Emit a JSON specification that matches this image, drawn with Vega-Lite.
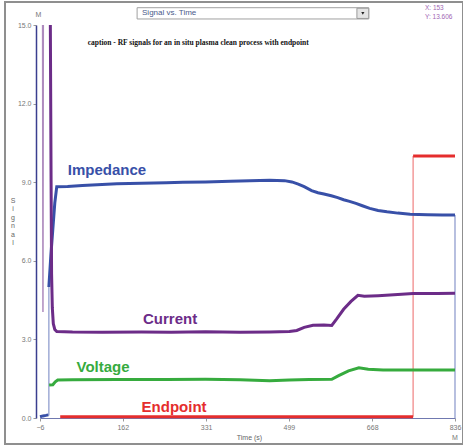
{
  "$schema": "https://vega.github.io/schema/vega-lite/v6.json",
  "width": 458,
  "height": 442,
  "autosize": {"type": "none"},
  "padding": {"left": 5, "top": 2, "right": 0, "bottom": 2},
  "background": "white",
  "config": {"view": {"stroke": "#8f8f8f", "strokeWidth": 2}, "font": "Liberation Sans"},
  "datasets": {
    "series": [
      {"s": "Impedance", "seg": "z", "t": -6, "v": 0.05},
      {"s": "Impedance", "seg": "z", "t": 0, "v": 0.08},
      {"s": "Impedance", "seg": "z", "t": 6, "v": 0.1},
      {"s": "Impedance", "seg": "z", "t": 11, "v": 0.12},
      {"s": "Impedance", "seg": "m", "t": 12, "v": 5.0},
      {"s": "Impedance", "seg": "m", "t": 16, "v": 6.2},
      {"s": "Impedance", "seg": "m", "t": 20, "v": 7.2},
      {"s": "Impedance", "seg": "m", "t": 24, "v": 8.2},
      {"s": "Impedance", "seg": "m", "t": 28, "v": 8.83},
      {"s": "Impedance", "seg": "m", "t": 50, "v": 8.84},
      {"s": "Impedance", "seg": "m", "t": 80, "v": 8.87},
      {"s": "Impedance", "seg": "m", "t": 110, "v": 8.9},
      {"s": "Impedance", "seg": "m", "t": 150, "v": 8.94},
      {"s": "Impedance", "seg": "m", "t": 200, "v": 8.96},
      {"s": "Impedance", "seg": "m", "t": 250, "v": 8.98},
      {"s": "Impedance", "seg": "m", "t": 284, "v": 9.0},
      {"s": "Impedance", "seg": "m", "t": 330, "v": 9.01},
      {"s": "Impedance", "seg": "m", "t": 380, "v": 9.04},
      {"s": "Impedance", "seg": "m", "t": 420, "v": 9.06},
      {"s": "Impedance", "seg": "m", "t": 460, "v": 9.07},
      {"s": "Impedance", "seg": "m", "t": 490, "v": 9.06},
      {"s": "Impedance", "seg": "m", "t": 505, "v": 9.01},
      {"s": "Impedance", "seg": "m", "t": 518, "v": 8.93},
      {"s": "Impedance", "seg": "m", "t": 530, "v": 8.83},
      {"s": "Impedance", "seg": "m", "t": 545, "v": 8.68},
      {"s": "Impedance", "seg": "m", "t": 558, "v": 8.6},
      {"s": "Impedance", "seg": "m", "t": 570, "v": 8.55},
      {"s": "Impedance", "seg": "m", "t": 585, "v": 8.48},
      {"s": "Impedance", "seg": "m", "t": 598, "v": 8.41},
      {"s": "Impedance", "seg": "m", "t": 610, "v": 8.33},
      {"s": "Impedance", "seg": "m", "t": 622, "v": 8.27},
      {"s": "Impedance", "seg": "m", "t": 635, "v": 8.19},
      {"s": "Impedance", "seg": "m", "t": 648, "v": 8.1},
      {"s": "Impedance", "seg": "m", "t": 663, "v": 8.0},
      {"s": "Impedance", "seg": "m", "t": 680, "v": 7.92},
      {"s": "Impedance", "seg": "m", "t": 698, "v": 7.87},
      {"s": "Impedance", "seg": "m", "t": 720, "v": 7.82},
      {"s": "Impedance", "seg": "m", "t": 745, "v": 7.78},
      {"s": "Impedance", "seg": "m", "t": 780, "v": 7.76},
      {"s": "Impedance", "seg": "m", "t": 810, "v": 7.75},
      {"s": "Impedance", "seg": "m", "t": 836, "v": 7.75},
      {"s": "Current", "seg": "m", "t": 15, "v": 15},
      {"s": "Current", "seg": "m", "t": 16.5, "v": 9},
      {"s": "Current", "seg": "m", "t": 17.5, "v": 5.5},
      {"s": "Current", "seg": "m", "t": 19, "v": 4.2},
      {"s": "Current", "seg": "m", "t": 21, "v": 3.6},
      {"s": "Current", "seg": "m", "t": 24, "v": 3.38},
      {"s": "Current", "seg": "m", "t": 28, "v": 3.3},
      {"s": "Current", "seg": "m", "t": 60, "v": 3.28},
      {"s": "Current", "seg": "m", "t": 120, "v": 3.27},
      {"s": "Current", "seg": "m", "t": 200, "v": 3.28},
      {"s": "Current", "seg": "m", "t": 260, "v": 3.27},
      {"s": "Current", "seg": "m", "t": 330, "v": 3.29},
      {"s": "Current", "seg": "m", "t": 400, "v": 3.27},
      {"s": "Current", "seg": "m", "t": 460, "v": 3.28},
      {"s": "Current", "seg": "m", "t": 500, "v": 3.3},
      {"s": "Current", "seg": "m", "t": 515, "v": 3.34},
      {"s": "Current", "seg": "m", "t": 530, "v": 3.46},
      {"s": "Current", "seg": "m", "t": 548, "v": 3.54},
      {"s": "Current", "seg": "m", "t": 570, "v": 3.55},
      {"s": "Current", "seg": "m", "t": 586, "v": 3.53},
      {"s": "Current", "seg": "m", "t": 596, "v": 3.78},
      {"s": "Current", "seg": "m", "t": 610, "v": 4.15},
      {"s": "Current", "seg": "m", "t": 625, "v": 4.45},
      {"s": "Current", "seg": "m", "t": 639, "v": 4.68},
      {"s": "Current", "seg": "m", "t": 652, "v": 4.65},
      {"s": "Current", "seg": "m", "t": 680, "v": 4.67},
      {"s": "Current", "seg": "m", "t": 720, "v": 4.71},
      {"s": "Current", "seg": "m", "t": 751, "v": 4.75},
      {"s": "Current", "seg": "m", "t": 800, "v": 4.75},
      {"s": "Current", "seg": "m", "t": 836, "v": 4.76},
      {"s": "Voltage", "seg": "m", "t": 12.5, "v": 1.26},
      {"s": "Voltage", "seg": "m", "t": 20, "v": 1.27},
      {"s": "Voltage", "seg": "m", "t": 25, "v": 1.38},
      {"s": "Voltage", "seg": "m", "t": 30, "v": 1.45},
      {"s": "Voltage", "seg": "m", "t": 60, "v": 1.46},
      {"s": "Voltage", "seg": "m", "t": 150, "v": 1.47},
      {"s": "Voltage", "seg": "m", "t": 250, "v": 1.47},
      {"s": "Voltage", "seg": "m", "t": 330, "v": 1.48},
      {"s": "Voltage", "seg": "m", "t": 400, "v": 1.46},
      {"s": "Voltage", "seg": "m", "t": 460, "v": 1.42},
      {"s": "Voltage", "seg": "m", "t": 500, "v": 1.45},
      {"s": "Voltage", "seg": "m", "t": 540, "v": 1.47},
      {"s": "Voltage", "seg": "m", "t": 586, "v": 1.48},
      {"s": "Voltage", "seg": "m", "t": 600, "v": 1.62},
      {"s": "Voltage", "seg": "m", "t": 620, "v": 1.8},
      {"s": "Voltage", "seg": "m", "t": 641, "v": 1.92},
      {"s": "Voltage", "seg": "m", "t": 660, "v": 1.86},
      {"s": "Voltage", "seg": "m", "t": 690, "v": 1.83},
      {"s": "Voltage", "seg": "m", "t": 750, "v": 1.83},
      {"s": "Voltage", "seg": "m", "t": 836, "v": 1.83},
      {"s": "Endpoint", "seg": "a", "t": 35, "v": 0.05},
      {"s": "Endpoint", "seg": "a", "t": 751, "v": 0.05},
      {"s": "Endpoint", "seg": "b", "t": 751, "v": 10},
      {"s": "Endpoint", "seg": "b", "t": 836, "v": 10}
    ],
    "spikes": [
      {"s": "Current", "seg": "s", "t": -0.7, "v": 15},
      {"s": "Current", "seg": "s", "t": 0, "v": 4.05},
      {"s": "Current", "seg": "s", "t": 0.7, "v": 15}
    ],
    "vlines": [
      {"s": "Impedance", "t": 12, "v": 0.1, "v2": 5.0},
      {"s": "Impedance", "t": 836, "v": 0, "v2": 7.75},
      {"s": "Endpoint", "t": 751, "v": 0.05, "v2": 10}
    ],
    "labels": [
      {"s": "Impedance", "t": 130, "v": 9.47},
      {"s": "Current", "t": 258, "v": 3.78},
      {"s": "Voltage", "t": 122, "v": 1.95},
      {"s": "Endpoint", "t": 266, "v": 0.42}
    ]
  },
  "encoding": {
    "x": {
      "field": "t", "type": "quantitative",
      "scale": {"domain": [-6, 836], "range": [35, 450], "nice": false, "zero": false},
      "axis": {
        "values": [-6, 162, 331, 499, 668, 836], "format": "d",
        "title": "Time  (s)", "offset": -26, "grid": false,
        "domainColor": "#7079b0", "tickColor": "#999", "tickSize": 3,
        "labelFontSize": 7, "labelColor": "#777", "labelPadding": 2, "labelFlush": false,
        "titleFontSize": 7, "titleColor": "#666", "titleFontWeight": "normal",
        "titleX": 244, "titleY": 19, "titleBaseline": "middle", "titleAlign": "center"
      }
    },
    "y": {
      "field": "v", "type": "quantitative",
      "scale": {"domain": [0, 15], "range": [416, 23], "nice": false, "zero": false},
      "axis": {
        "values": [0, 3, 6, 9, 12, 15], "format": ".1f",
        "title": ["S", "i", "g", "n", "a", "l"], "titleAngle": 0,
        "titleX": -23.5, "titleY": 194, "titleAlign": "center", "titleBaseline": "top",
        "titleLineHeight": 8.5, "titleFontSize": 7, "titleFontWeight": "normal", "titleColor": "#666",
        "offset": -31, "grid": false,
        "domainColor": "#3a3f8f", "domainWidth": 1.5, "tickColor": "#999", "tickSize": 3,
        "labelFontSize": 7, "labelColor": "#777", "labelPadding": 2, "labelFlush": false
      }
    }
  },
  "layer": [
    {
      "data": {"values": [{"t": 191, "t2": 661, "v": 15.23, "v2": 15.66}]},
      "mark": {"type": "rect", "fill": "white", "stroke": "#a0a0a0", "strokeWidth": 1},
      "encoding": {"x2": {"field": "t2"}, "y2": {"field": "v2"}}
    },
    {
      "data": {"values": [{"t": 637, "t2": 661, "v": 15.25, "v2": 15.64}]},
      "mark": {"type": "rect", "fill": "#e4e4e4", "stroke": "#9a9a9a", "strokeWidth": 1},
      "encoding": {"x2": {"field": "t2"}, "y2": {"field": "v2"}}
    },
    {
      "data": {"values": [{"t": 649, "v": 15.44}]},
      "mark": {"type": "point", "shape": "triangle-down", "size": 10, "filled": true, "color": "#222", "opacity": 1}
    },
    {
      "data": {"values": [{"txt": "Signal vs. Time", "t": 201, "v": 15.45}]},
      "mark": {"type": "text", "align": "left", "baseline": "middle", "fontSize": 8, "color": "#4a5a8a"},
      "encoding": {"text": {"field": "txt"}}
    },
    {
      "data": {"values": [{"txt": "X: 153", "t": 775, "v": 15.63}, {"txt": "Y: 13.606", "t": 775, "v": 15.31}]},
      "mark": {"type": "text", "align": "left", "baseline": "middle", "fontSize": 6.5, "color": "#a066b4"},
      "encoding": {"text": {"field": "txt"}}
    },
    {
      "data": {"values": [{"txt": "M", "t": -9, "v": 15.4}, {"txt": "M", "t": 836, "v": -0.76}]},
      "mark": {"type": "text", "align": "center", "baseline": "middle", "fontSize": 7, "color": "#777"},
      "encoding": {"text": {"field": "txt"}}
    },
    {
      "data": {"values": [{"txt": "caption - RF signals for an in situ plasma clean process with endpoint", "t": 315, "v": 14.33}]},
      "mark": {"type": "text", "align": "center", "baseline": "middle", "fontSize": 7.5, "font": "Liberation Serif", "fontWeight": "bold", "color": "#111"},
      "encoding": {"text": {"field": "txt"}}
    },
    {
      "data": {"name": "vlines"},
      "mark": {"type": "rule", "strokeWidth": 1.2, "opacity": 0.6},
      "encoding": {
        "y2": {"field": "v2"},
        "color": {"field": "s", "type": "nominal", "legend": null,
          "scale": {"domain": ["Impedance", "Current", "Voltage", "Endpoint"], "range": ["#3850a8", "#6c2c88", "#36ab3e", "#e52d2d"]}}
      }
    },
    {
      "data": {"name": "spikes"},
      "mark": {"type": "line", "strokeWidth": 1.5, "opacity": 0.55},
      "encoding": {
        "color": {"field": "s", "type": "nominal", "legend": null},
        "detail": {"field": "seg"}
      }
    },
    {
      "data": {"name": "series"},
      "mark": {"type": "line", "strokeWidth": 3},
      "encoding": {
        "color": {"field": "s", "type": "nominal", "legend": null},
        "detail": {"field": "seg"}
      }
    },
    {
      "data": {"name": "labels"},
      "mark": {"type": "text", "align": "center", "baseline": "middle", "fontSize": 15, "fontWeight": "bold", "font": "Liberation Sans"},
      "encoding": {
        "text": {"field": "s"},
        "color": {"field": "s", "type": "nominal", "legend": null}
      }
    }
  ]
}
